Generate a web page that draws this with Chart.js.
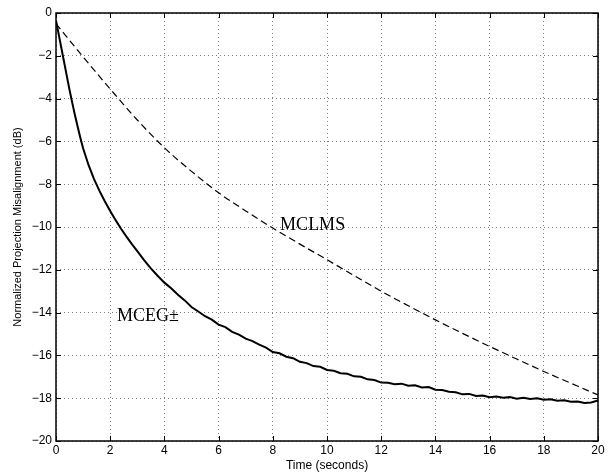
<!DOCTYPE html>
<html lang="en">
<head>
    <meta charset="UTF-8">
    <title>Normalized Projection Misalignment</title>
    <script src="https://cdn.jsdelivr.net/npm/chart.js@4"></script>
    <style>
        html, body {
            margin: 0;
            padding: 0;
            background: #fff;
        }
        #chart-box {
            width: 612px;
            height: 474px;
        }
    </style>
</head>
<body>
    <div id="chart-box">
        <canvas id="misalign-chart"></canvas>
    </div>

    <script>
        // MCEG+- (solid) : time in seconds, misalignment in dB
        const mcegTime = [
            0, 0.1, 0.2, 0.3, 0.4, 0.5, 0.6, 0.7, 0.8, 0.9, 1.0, 1.2, 1.4, 1.6, 1.8, 2.0, 2.2, 2.4, 2.6, 2.8, 3.0,
            3.25, 3.5, 3.75, 4.0, 4.25, 4.5, 4.75, 5.0, 5.25, 5.5, 5.75, 6.0, 6.25, 6.5, 6.75, 7.0,
            7.25, 7.5, 7.75, 8.0, 8.25, 8.5, 8.75, 9.0, 9.25, 9.5, 9.75, 10.0, 10.25, 10.5, 10.75, 11.0,
            11.25, 11.5, 11.75, 12.0, 12.25, 12.5, 12.75, 13.0, 13.25, 13.5, 13.75, 14.0, 14.25, 14.5, 14.75, 15.0,
            15.25, 15.5, 15.75, 16.0, 16.25, 16.5, 16.75, 17.0, 17.25, 17.5, 17.75, 18.0, 18.25, 18.5, 18.75, 19.0,
            19.25, 19.5, 19.75, 20.0
        ];
        const mcegDb = [
            -0.35, -1.0, -1.65, -2.3, -2.95, -3.6, -4.2, -4.78, -5.32, -5.84, -6.32, -7.1, -7.75, -8.3, -8.8, -9.25, -9.68, -10.08, -10.45, -10.8, -11.13,
            -11.55, -11.93, -12.28, -12.6, -12.86, -13.17, -13.43, -13.74, -13.95, -14.17, -14.33, -14.56, -14.68, -14.9, -15.03, -15.22,
            -15.33, -15.5, -15.64, -15.84, -15.9, -16.06, -16.13, -16.3, -16.36, -16.5, -16.53, -16.68, -16.72, -16.83, -16.86, -16.98,
            -17.0, -17.12, -17.15, -17.27, -17.28, -17.35, -17.32, -17.42, -17.4, -17.5, -17.48, -17.6, -17.62, -17.7, -17.72, -17.82,
            -17.8, -17.9, -17.87, -17.95, -17.92, -17.98, -17.95, -18.02, -17.98, -18.04, -18.0, -18.07, -18.05, -18.12, -18.1, -18.17,
            -18.15, -18.22, -18.2, -18.1
        ];

        // MCLMS (dashed)
        const clmsTime = [0, 1, 2, 3, 4, 5, 6, 7, 8, 9, 10, 11, 12, 13, 14, 15, 16, 17, 18, 19, 20];
        const clmsDb = [
            -0.5, -2.05, -3.55, -5.0, -6.3, -7.4, -8.4, -9.25, -10.05, -10.8, -11.53,
            -12.27, -13.0, -13.68, -14.34, -14.97, -15.58, -16.17, -16.75, -17.3, -17.85
        ];

        // axis ticks
        const xTicks = [0, 2, 4, 6, 8, 10, 12, 14, 16, 18, 20];
        const yTicks = [0, -2, -4, -6, -8, -10, -12, -14, -16, -18, -20];

        // curve labels, placed in data units (left edge, baseline)
        const labelText = ['MCLMS', 'MCEG\u00B1'];
        const labelX = [8.27, 2.25];
        const labelY = [-10.14, -14.39];

        function toPoints(xs, ys) {
            return xs.map((x, i) => ({ x: x, y: ys[i] }));
        }

        // box + inward tick marks + curve labels, like a matlab axes
        const axesBox = {
            id: 'axesBox',
            afterDatasetsDraw(chart) {
                const ctx = chart.ctx;
                const area = chart.chartArea;
                const xs = chart.scales.x;
                const ys = chart.scales.y;
                const tickLen = 5;

                ctx.save();
                ctx.strokeStyle = '#000';
                ctx.lineWidth = 1;
                ctx.beginPath();
                xTicks.forEach(t => {
                    const px = Math.round(xs.getPixelForValue(t)) + 0.5;
                    ctx.moveTo(px, area.bottom);
                    ctx.lineTo(px, area.bottom - tickLen);
                    ctx.moveTo(px, area.top);
                    ctx.lineTo(px, area.top + tickLen);
                });
                yTicks.forEach(t => {
                    const py = Math.round(ys.getPixelForValue(t)) + 0.5;
                    ctx.moveTo(area.left, py);
                    ctx.lineTo(area.left + tickLen, py);
                    ctx.moveTo(area.right, py);
                    ctx.lineTo(area.right - tickLen, py);
                });
                ctx.stroke();

                ctx.lineWidth = 1.5;
                ctx.strokeRect(area.left, area.top, area.right - area.left, area.bottom - area.top);

                ctx.fillStyle = '#000';
                ctx.font = '18px "Liberation Serif", "Times New Roman", serif';
                ctx.textAlign = 'left';
                ctx.textBaseline = 'alphabetic';
                labelText.forEach((txt, i) => {
                    ctx.fillText(txt, xs.getPixelForValue(labelX[i]), ys.getPixelForValue(labelY[i]));
                });
                ctx.restore();
            }
        };

        const tickFont = { family: '"Liberation Sans", Arial, sans-serif', size: 12 };

        const ctx = document.getElementById('misalign-chart').getContext('2d');
        const myChart = new Chart(ctx, {
            type: 'line',
            data: {
                datasets: [
                    {
                        label: 'MCLMS',
                        data: toPoints(clmsTime, clmsDb),
                        borderColor: '#000',
                        borderWidth: 1.2,
                        borderDash: [7, 4],
                        pointRadius: 0,
                        fill: false,
                        cubicInterpolationMode: 'monotone'
                    },
                    {
                        label: 'MCEG\u00B1',
                        data: toPoints(mcegTime, mcegDb),
                        borderColor: '#000',
                        borderWidth: 2,
                        pointRadius: 0,
                        fill: false,
                        tension: 0
                    }
                ]
            },
            plugins: [axesBox],
            options: {
                responsive: true,
                maintainAspectRatio: false,
                animation: false,
                events: [],
                layout: {
                    padding: { left: 0, top: 13, right: 14, bottom: 0 }
                },
                plugins: {
                    legend: { display: false },
                    tooltip: { enabled: false }
                },
                scales: {
                    x: {
                        type: 'linear',
                        min: 0,
                        max: 20,
                        afterFit: s => { s.height = 33; },
                        afterBuildTicks: s => { s.ticks = xTicks.map(v => ({ value: v })); },
                        ticks: {
                            color: '#000',
                            font: tickFont,
                            padding: 2,
                            maxRotation: 0,
                            autoSkip: false
                        },
                        grid: {
                            color: 'rgba(0,0,0,0.5)',
                            lineWidth: 1,
                            drawTicks: false
                        },
                        border: { display: false, dash: [1, 3] },
                        title: {
                            display: true,
                            text: 'Time (seconds)',
                            color: '#000',
                            font: tickFont,
                            padding: { top: 0, bottom: 1 }
                        }
                    },
                    y: {
                        type: 'linear',
                        min: -20,
                        max: 0,
                        afterFit: s => { s.width = 56; },
                        afterBuildTicks: s => { s.ticks = yTicks.map(v => ({ value: v })); },
                        ticks: {
                            color: '#000',
                            font: tickFont,
                            padding: 4,
                            autoSkip: false,
                            callback: v => String(v).replace('-', '\u2212')
                        },
                        grid: {
                            color: 'rgba(0,0,0,0.5)',
                            lineWidth: 1,
                            drawTicks: false
                        },
                        border: { display: false, dash: [1, 3] },
                        title: {
                            display: true,
                            text: 'Normalized Projection Misalignment (dB)',
                            color: '#000',
                            font: { family: '"Liberation Sans", Arial, sans-serif', size: 11 },
                            padding: { top: 11, bottom: 0 }
                        }
                    }
                }
            }
        });
    </script>
</body>
</html>
